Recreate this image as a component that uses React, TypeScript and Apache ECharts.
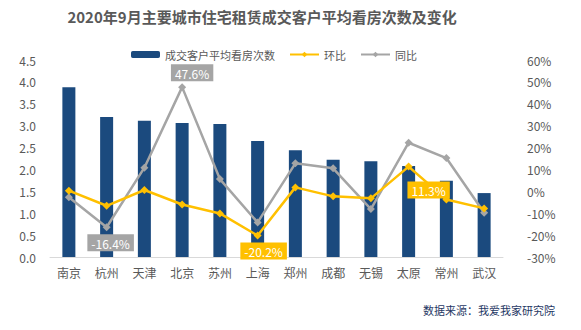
import React, { useEffect, useRef } from "react";
import * as echarts from "echarts";

const cities = ["南京", "杭州", "天津", "北京", "苏州", "上海", "郑州", "成都", "无锡", "太原", "常州", "武汉"];
const avgViews = [3.88, 3.2, 3.11, 3.06, 3.04, 2.65, 2.44, 2.22, 2.19, 2.08, 1.74, 1.46];
const momChange = [0.3, -6.6, 0.6, -6.0, -10.1, -20.2, 1.8, -2.3, -3.2, 11.3, -3.7, -7.8];
const yoyChange = [-2.7, -16.4, 10.8, 47.6, 5.6, -14.2, 12.8, 10.5, -8.1, 22.2, 15.2, -9.8];
const leftTicks = [0, 4.5, 0.5];
const rightTicks = [-30, 60, 10];
const momLabeled = ["上海", "太原"];
const yoyLabeled = ["杭州", "北京"];

const NAVY = "#1B4A7E";
const YELLOW = "#FFC000";
const GRAY = "#A5A5A5";
const FONT = "'Noto Sans CJK SC', 'Noto Sans', sans-serif";

const labelOpts: Record<string, any> = {
  上海: { position: "bottom", distance: 3, offset: [6, 0] },
  太原: { position: "bottom", distance: 11, offset: [20, 0] },
  杭州: { position: "bottom", distance: 3, offset: [4, 0] },
  北京: { position: "top", distance: 2, offset: [10, 0] },
};

function makeData(values: number[], labeled: string[], bg: string) {
  return values.map((v, i) => {
    const c = cities[i];
    if (!labeled.includes(c)) return v;
    return {
      value: v,
      label: {
        show: true,
        formatter: v.toFixed(1) + "%",
        color: "#fff",
        backgroundColor: bg,
        padding: [3, 4, 2, 4],
        fontSize: 12,
        fontFamily: FONT,
        ...labelOpts[c],
      },
    };
  });
}

export default function App() {
  const ref = useRef<HTMLDivElement>(null);
  useEffect(() => {
    if (!ref.current) return;
    const chart = echarts.init(ref.current, undefined, { renderer: "svg" });
    chart.setOption({
      animation: false,
      textStyle: { fontFamily: FONT },
      graphic: [
        {
          type: "text",
          x: 262,
          y: 16,
          style: {
            text: "2020年9月主要城市住宅租赁成交客户平均看房次数及变化",
            fill: "#595959",
            font: `bold 15px ${FONT}`,
            textAlign: "center",
            textVerticalAlign: "middle",
          },
        },
        {
          type: "text",
          x: 555,
          y: 310,
          style: {
            text: "数据来源：我爱我家研究院",
            fill: "#1F3864",
            font: `11px ${FONT}`,
            textAlign: "right",
            textVerticalAlign: "middle",
          },
        },
      ],
      legend: {
        top: 44,
        left: 126,
        itemWidth: 29,
        itemHeight: 7,
        itemGap: 14,
        textStyle: { color: "#595959", fontSize: 11, fontFamily: FONT },
        data: ["成交客户平均看房次数", "环比", "同比"],
      },
      grid: { left: 50, right: 78, top: 60, bottom: 73 },
      xAxis: {
        type: "category",
        data: cities,
        axisLine: { lineStyle: { color: "#D9D9D9" } },
        axisTick: { show: false },
        axisLabel: { color: "#595959", fontSize: 12, margin: 9, interval: 0 },
      },
      yAxis: [
        {
          type: "value",
          min: leftTicks[0],
          max: leftTicks[1],
          interval: leftTicks[2],
          splitLine: { show: false },
          axisLine: { show: false },
          axisTick: { show: false },
          axisLabel: {
            color: "#595959",
            fontSize: 12,
            margin: 14,
            formatter: (v: number) => v.toFixed(1),
          },
        },
        {
          type: "value",
          min: rightTicks[0],
          max: rightTicks[1],
          interval: rightTicks[2],
          splitLine: { show: false },
          axisLine: { show: false },
          axisTick: { show: false },
          axisLabel: { color: "#595959", fontSize: 12, margin: 24, formatter: "{value}%" },
        },
      ],
      series: [
        {
          name: "成交客户平均看房次数",
          type: "bar",
          data: avgViews,
          barWidth: 13,
          itemStyle: { color: NAVY },
        },
        {
          name: "环比",
          type: "line",
          yAxisIndex: 1,
          data: makeData(momChange, momLabeled, YELLOW),
          symbol: "diamond",
          symbolSize: 8,
          lineStyle: { color: YELLOW, width: 2.5 },
          itemStyle: { color: YELLOW },
          z: 4,
        },
        {
          name: "同比",
          type: "line",
          yAxisIndex: 1,
          data: makeData(yoyChange, yoyLabeled, GRAY),
          symbol: "diamond",
          symbolSize: 8,
          lineStyle: { color: GRAY, width: 2.5 },
          itemStyle: { color: GRAY },
          z: 3,
        },
      ],
    });
    return () => chart.dispose();
  }, []);
  return <div ref={ref} style={{ width: 581, height: 330, position: "absolute", left: 0, top: 0 }} />;
}
